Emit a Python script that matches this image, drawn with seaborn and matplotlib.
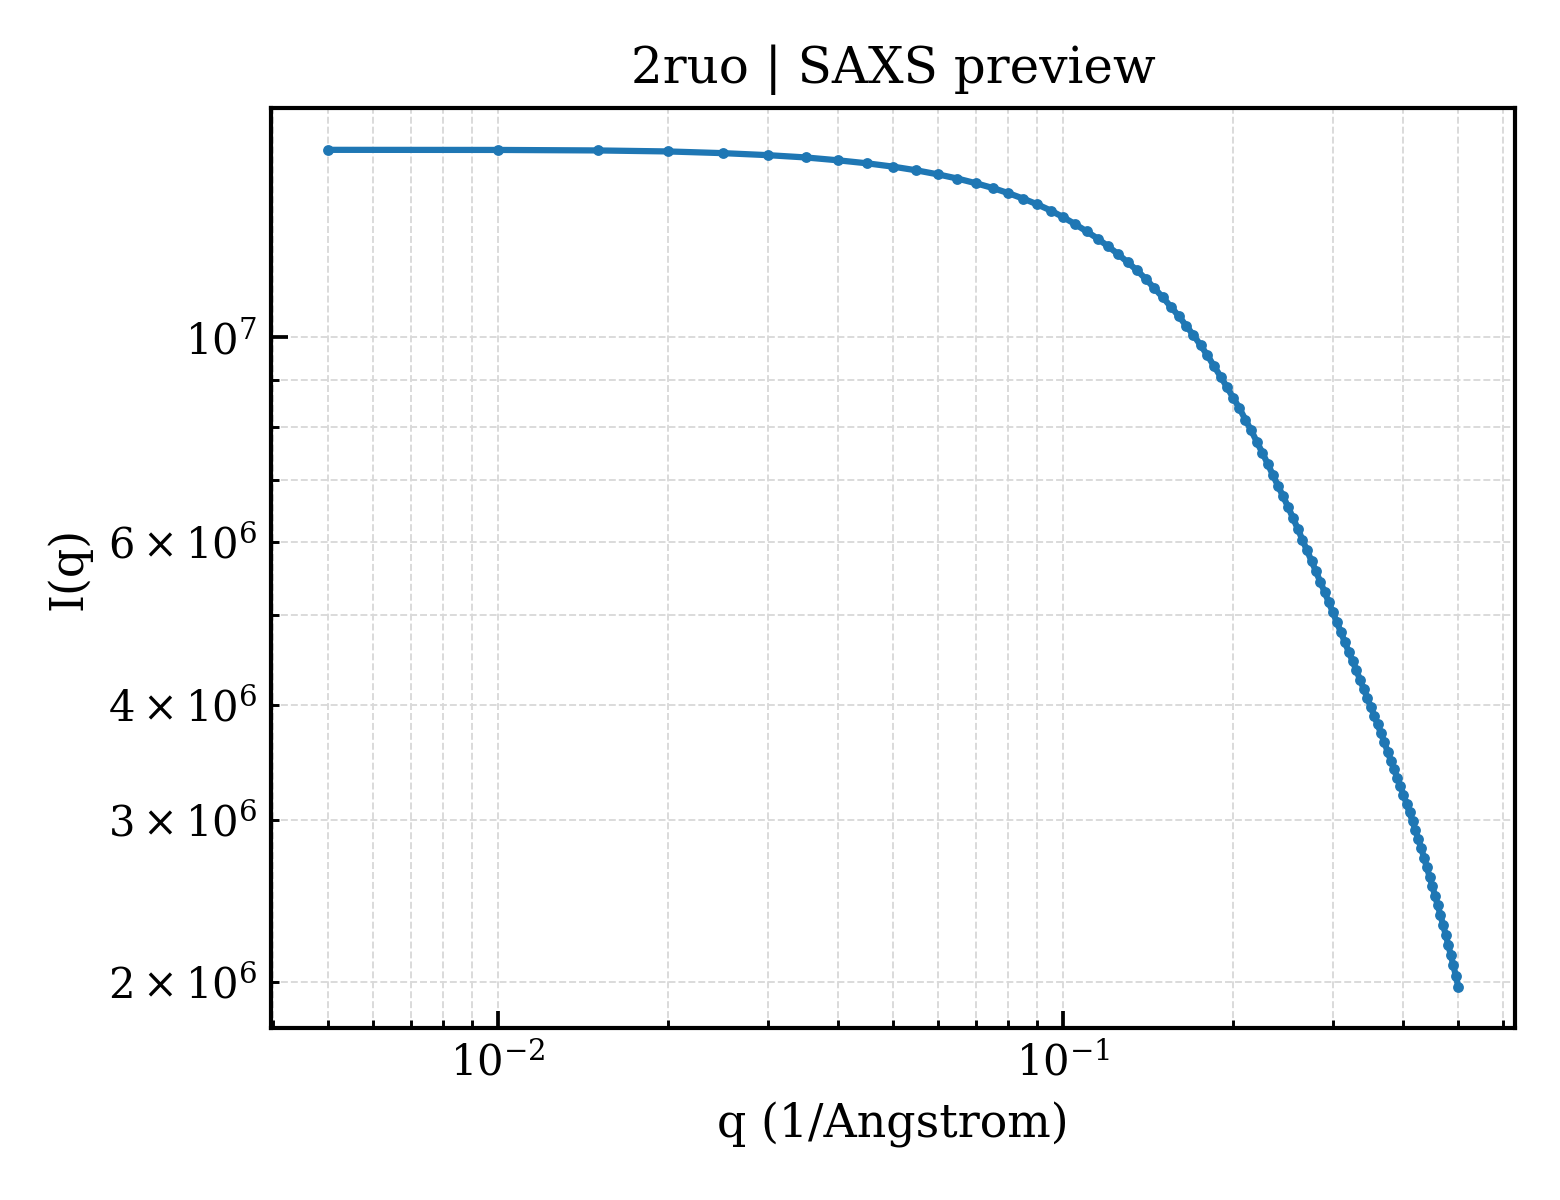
import pandas as pd
import matplotlib
matplotlib.use("Agg")
import matplotlib.pyplot as plt
import seaborn as sns

# === Datos ===
q_vals = [
    0.005, 0.010, 0.015, 0.020, 0.025, 0.030, 0.035, 0.040, 0.045, 0.050,
    0.055, 0.060, 0.065, 0.070, 0.075, 0.080, 0.085, 0.090, 0.095, 0.100,
    0.105, 0.110, 0.115, 0.120, 0.125, 0.130, 0.135, 0.140, 0.145, 0.150,
    0.155, 0.160, 0.165, 0.170, 0.175, 0.180, 0.185, 0.190, 0.195, 0.200,
    0.205, 0.210, 0.215, 0.220, 0.225, 0.230, 0.235, 0.240, 0.245, 0.250,
    0.255, 0.260, 0.265, 0.270, 0.275, 0.280, 0.285, 0.290, 0.295, 0.300,
    0.305, 0.310, 0.315, 0.320, 0.325, 0.330, 0.335, 0.340, 0.345, 0.350,
    0.355, 0.360, 0.365, 0.370, 0.375, 0.380, 0.385, 0.390, 0.395, 0.400,
    0.405, 0.410, 0.415, 0.420, 0.425, 0.430, 0.435, 0.440, 0.445, 0.450,
    0.455, 0.460, 0.465, 0.470, 0.475, 0.480, 0.485, 0.490, 0.495, 0.500,
]
intensidad = [
    1.597e7, 1.5966e7, 1.5946e7, 1.5906e7, 1.5839e7, 1.5760e7, 1.5670e7, 1.5557e7, 1.5441e7, 1.5314e7,
    1.5173e7, 1.5022e7, 1.4865e7, 1.4695e7, 1.4521e7, 1.4333e7, 1.4137e7, 1.3937e7, 1.3726e7, 1.3499e7,
    1.3265e7, 1.3029e7, 1.2799e7, 1.2555e7, 1.2313e7, 1.2063e7, 1.1825e7, 1.1570e7, 1.1304e7, 1.1053e7,
    1.0797e7, 1.0552e7, 1.0297e7, 1.0055e7, 9.809e6, 9.560e6, 9.301e6, 9.065e6, 8.826e6, 8.597e6,
    8.380e6, 8.147e6, 7.932e6, 7.711e6, 7.502e6, 7.298e6, 7.092e6, 6.903e6, 6.724e6, 6.550e6,
    6.372e6, 6.204e6, 6.035e6, 5.876e6, 5.727e6, 5.578e6, 5.434e6, 5.300e6, 5.165e6, 5.035e6,
    4.911e6, 4.792e6, 4.673e6, 4.564e6, 4.460e6, 4.360e6, 4.258e6, 4.163e6, 4.071e6, 3.977e6,
    3.892e6, 3.807e6, 3.723e6, 3.640e6, 3.557e6, 3.478e6, 3.402e6, 3.331e6, 3.263e6, 3.193e6,
    3.124e6, 3.056e6, 2.990e6, 2.923e6, 2.858e6, 2.794e6, 2.730e6, 2.664e6, 2.603e6, 2.542e6,
    2.481e6, 2.423e6, 2.366e6, 2.309e6, 2.253e6, 2.197e6, 2.142e6, 2.088e6, 2.034e6, 1.979e6,
]

df = pd.DataFrame({"q": q_vals, "I": intensidad})

# === Estilo ===
sns.set_style("ticks")
plt.rcParams["font.family"] = ["DejaVu Serif"]
plt.rcParams["mathtext.fontset"] = "dejavuserif"
plt.rcParams["text.color"] = "black"
plt.rcParams["axes.labelcolor"] = "black"
plt.rcParams["xtick.color"] = "black"
plt.rcParams["ytick.color"] = "black"

fig, ax = plt.subplots(figsize=(5.2, 4), dpi=300)
fig.subplots_adjust(left=0.174, right=0.971, top=0.91, bottom=0.143)

sns.lineplot(data=df, x="q", y="I", ax=ax, color="#1f77b4", linewidth=1.5,
             marker="o", markersize=2.6, markeredgewidth=0)

ax.set_xscale("log")
ax.set_yscale("log")
ax.grid(True, which="both", linestyle="--", linewidth=0.45, color="#d9d9d9")
ax.set_axisbelow(True)

for s in ax.spines.values():
    s.set_visible(True)
    s.set_linewidth(1.0)
    s.set_color("black")

ax.tick_params(which="major", direction="in", length=4, width=0.9, labelsize=10,
               top=False, right=False)
ax.tick_params(which="minor", direction="in", length=2, width=0.7, top=False, right=False)
ax.tick_params(axis="y", which="minor", labelsize=10)

ax.set_title("2ruo | SAXS preview", fontsize=12)
ax.set_xlabel("q (1/Angstrom)", fontsize=11)
ax.set_ylabel("I(q)", fontsize=11)

plt.savefig("out.png", dpi=300)
plt.close()
